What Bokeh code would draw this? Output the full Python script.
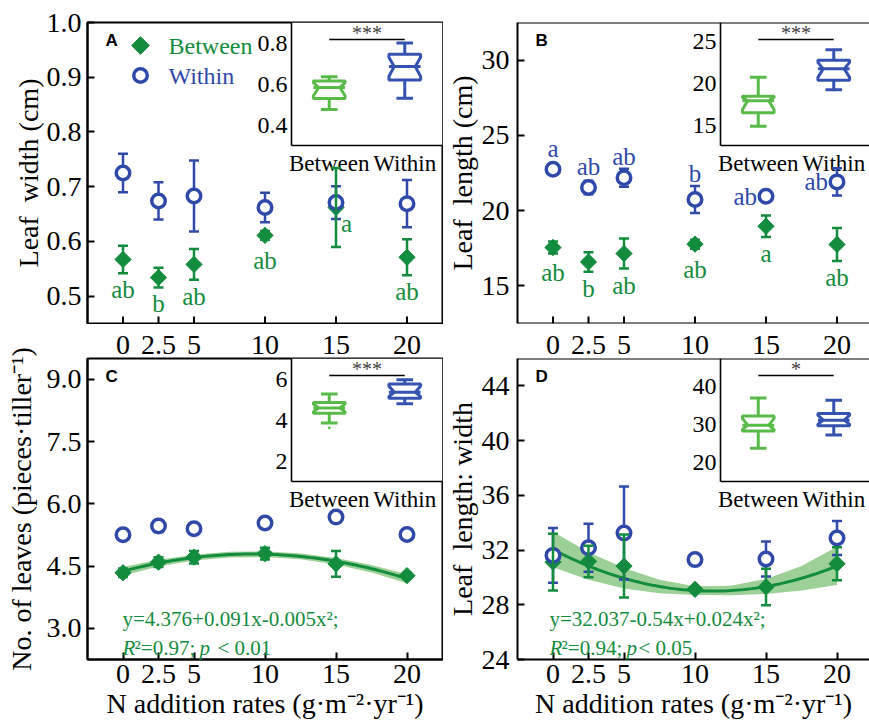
import numpy as np
from bokeh.plotting import figure
from bokeh.layouts import column, row
from bokeh.models import Range1d, FixedTicker, Label, Span, LinearAxis
from bokeh.core.properties import value
from bokeh.embed import file_html
from bokeh.resources import INLINE

# ------------------------------------------------------------------ data
n_rates = [0, 2.5, 5, 10, 15, 20]
n_rate_labels = ["0", "2.5", "5", "10", "15", "20"]
groups = ["Between", "Within"]

# A: leaf width (cm)
width_between = [0.567, 0.534, 0.558, 0.611, 0.662, 0.571]
width_between_se = [0.025, 0.018, 0.028, 0.008, 0.072, 0.033]
width_within = [0.725, 0.674, 0.683, 0.662, 0.671, 0.669]
width_within_se = [0.035, 0.034, 0.065, 0.027, 0.030, 0.043]
width_between_letters = ["ab", "b", "ab", "ab", "a", "ab"]
width_between_letter_pos = ["below", "below", "below", "below", "right", "below"]

# B: leaf length (cm)
length_between = [17.55, 16.59, 17.15, 17.77, 18.96, 17.75]
length_between_se = [0.40, 0.65, 1.00, 0.30, 0.72, 1.10]
length_within = [22.75, 21.54, 22.18, 20.74, 20.96, 21.91]
length_within_se = [0.15, 0.45, 0.60, 0.90, 0.10, 0.90]
length_between_letters = ["ab", "b", "ab", "ab", "a", "ab"]
length_between_letter_pos = ["below"] * 6
length_within_letters = ["a", "ab", "ab", "b", "ab", "ab"]
length_within_letter_pos = ["above", "above", "above", "above", "left", "left"]

# C: number of leaves
leaves_between = [4.34, 4.595, 4.715, 4.80, 4.555, 4.27]
leaves_between_se = [0.10, 0.12, 0.15, 0.14, 0.31, 0.07]
leaves_within = [5.256, 5.464, 5.40, 5.536, 5.68, 5.26]
leaves_within_se = [0.13, 0.14, 0.10, 0.10, 0.08, 0.12]
leaves_fit = [4.376, 0.091, -0.005]          # y = a + b x + c x^2
leaves_eq = ["y=4.376+0.091x-0.005x\u00b2;", "\u00b2=0.97; ", "< 0.01"]

# D: leaf length : width
ratio_between = [31.12, 31.17, 30.83, 29.13, 29.30, 31.00]
ratio_between_se = [2.08, 1.15, 2.30, 0.15, 1.34, 1.20]
ratio_within = [31.61, 32.17, 33.24, 31.30, 31.34, 32.88]
ratio_within_se = [2.00, 1.75, 3.40, 0.30, 1.28, 1.24]
ratio_fit = [32.037, -0.54, 0.024]
ratio_eq = ["y=32.037-0.54x+0.024x\u00b2;", "\u00b2=0.94; ", "< 0.05"]

# confidence band half-widths read at these rates
band_x = [0, 2.5, 5, 7.5, 10, 12.5, 15, 17.5, 20]
leaves_band_half = [0.10, 0.08, 0.07, 0.07, 0.07, 0.07, 0.08, 0.09, 0.11]
ratio_band_half = [1.30, 1.00, 0.75, 0.50, 0.32, 0.35, 0.55, 0.90, 1.40]

# insets: [lower whisker, Q1, median, Q3, upper whisker]
inset_width_between = [0.476, 0.529, 0.583, 0.615, 0.635]
inset_width_within = [0.53, 0.62, 0.685, 0.745, 0.80]
inset_length_between = [14.9, 16.5, 17.95, 18.5, 20.75]
inset_length_within = [19.25, 20.4, 21.76, 22.8, 24.03]
inset_leaves_between = [3.88, 4.36, 4.62, 4.88, 5.31]
inset_leaves_within = [4.82, 5.10, 5.39, 5.80, 6.00]
inset_leaves_outliers = [3.64]
inset_ratio_between = [23.73, 28.25, 29.8, 32.17, 36.95]
inset_ratio_within = [27.2, 29.64, 31.1, 32.87, 36.34]
significance = ["***", "***", "***", "*"]

# axis ticks
width_ticks = [0.5, 0.6, 0.7, 0.8, 0.9, 1.0]
width_tick_labels = ["0.5", "0.6", "0.7", "0.8", "0.9", "1.0"]
length_ticks = [15, 20, 25, 30]
length_tick_labels = ["15", "20", "25", "30"]
leaves_ticks = [3.0, 4.5, 6.0, 7.5, 9.0]
leaves_tick_labels = ["3.0", "4.5", "6.0", "7.5", "9.0"]
ratio_ticks = [24, 28, 32, 36, 40, 44]
ratio_tick_labels = ["24", "28", "32", "36", "40", "44"]
inset_width_ticks = [0.4, 0.6, 0.8]
inset_width_tick_labels = ["0.4", "0.6", "0.8"]
inset_length_ticks = [15, 20, 25]
inset_length_tick_labels = ["15", "20", "25"]
inset_leaves_ticks = [2, 4, 6]
inset_leaves_tick_labels = ["2", "4", "6"]
inset_ratio_ticks = [20, 30, 40]
inset_ratio_tick_labels = ["20", "30", "40"]

x_title = "N addition rates (g\u00b7m\u207b\u00b2\u00b7yr\u207b\u00b9)"

# ------------------------------------------------------------------ style
FONT = "Liberation Serif"
GREEN = "#138c3e"
BLUE = "#2f49a8"
IGREEN = "#58bb48"
IBLUE = "#3453b0"
BAND = "#4daa3f"
SP = "\u00a0 "

FH = 301          # frame height
FW_L, FW_R = 355, 352
MBL_L, MBL_R = 87, 74
XPPU = 14.2       # px per N unit
IH = 123          # inset height px
IL_L, IL_R = 204, 203
INSET_PPU = 75.5  # px per category
TICK_FS = "28px"
LAB_FS = "28px"


def style_axis(ax, ticks, labels, standoff):
    ax.ticker = FixedTicker(ticks=ticks)
    ax.major_label_overrides = dict(zip(ticks, labels))
    ax.major_tick_in = 7
    ax.major_tick_out = 0
    ax.minor_tick_line_color = None
    ax.major_tick_line_width = 2
    ax.major_tick_line_color = "black"
    ax.axis_line_width = 2
    ax.axis_line_color = "black"
    ax.major_label_text_font = FONT
    ax.major_label_text_font_size = TICK_FS
    ax.major_label_text_color = "black"
    ax.major_label_standoff = standoff
    ax.axis_label_text_font = FONT
    ax.axis_label_text_font_size = LAB_FS
    ax.axis_label_text_font_style = "normal"
    ax.axis_label_text_color = "black"


def errbars(p, x, m, se, color):
    lo = [a - b for a, b in zip(m, se)]
    hi = [a + b for a, b in zip(m, se)]
    p.segment(x0=x, y0=lo, x1=x, y1=hi, line_color=color, line_width=2.5)
    p.scatter(x=list(x) + list(x), y=lo + hi, marker="dash", size=10,
              line_color=color, line_width=2.5)


def letters(p, x, m, se, texts, pos, color, ppu):
    r = 9.0 / ppu
    specs = {
        "below": dict(text_align="center", text_baseline="top", y_offset=3),
        "above": dict(text_align="center", text_baseline="alphabetic", y_offset=-12),
        "right": dict(text_align="left", text_baseline="middle", x_offset=5, y_offset=16),
        "left": dict(text_align="right", text_baseline="middle", x_offset=-9),
    }
    for kind, kw in specs.items():
        idx = [i for i, k in enumerate(pos) if k == kind]
        if not idx:
            continue
        if kind == "below":
            ys = [min(m[i] - se[i], m[i] - r) for i in idx]
        elif kind == "above":
            ys = [max(m[i] + se[i], m[i] + r) for i in idx]
        else:
            ys = [m[i] for i in idx]
        p.text(x=[x[i] for i in idx], y=ys, text=[texts[i] for i in idx],
               text_font=value(FONT), text_font_size="25px", text_color=color, **kw)


def notched(c, stats, hw=0.21, d=0.07):
    lo, q1, med, q3, hi = stats
    nlo = med - 0.75 * (med - q1)
    nhi = med + 0.75 * (q3 - med)
    xs = [c - hw, c + hw, c + hw, c + hw - d, c + hw, c + hw, c - hw, c - hw, c - hw + d, c - hw]
    ys = [q1, q1, nlo, med, nhi, q3, q3, nhi, med, nlo]
    return xs, ys


def make_panel(cfg):
    left = cfg["left"]
    top = cfg["top"]
    FW = FW_L if left else FW_R
    IL = IL_L if left else IL_R
    x0 = -2.5
    x1 = x0 + FW / XPPU
    y0, y1 = cfg["yrange"]
    mbl = MBL_L if left else MBL_R
    mbr = 1 if left else 0
    mbt = 22 if top else 34
    mbb = 1 if top else 64
    p = figure(width=mbl + FW + mbr, height=mbt + FH + mbb,
               x_range=Range1d(x0, x1), y_range=Range1d(y0, y1),
               output_backend="svg", toolbar_location=None,
               min_border_left=mbl, min_border_right=mbr,
               min_border_top=mbt, min_border_bottom=mbb)
    p.xgrid.visible = False
    p.ygrid.visible = False
    p.background_fill_color = "white"
    p.border_fill_color = "white"
    if left:
        p.outline_line_color = "black"
        p.outline_line_width = 2
    else:
        p.outline_line_color = None
        p.add_layout(Span(location=y1, dimension="width", line_color="black", line_width=2))

    ppu = FH / (y1 - y0)

    style_axis(p.yaxis[0], cfg["yticks"], cfg["yticklabels"], 6 if left else 8)
    p.yaxis[0].axis_label = cfg["ylabel"]
    p.yaxis[0].axis_label_standoff = cfg["ylabstand"]
    if top:
        # inward tick marks only; their labels sit on the lower panels' top axis
        p.xaxis[0].visible = False
        if not left:
            p.add_layout(Span(location=y0, dimension="width", line_color="black",
                              line_width=2))
        p.segment(x0=n_rates, y0=[y0] * len(n_rates), x1=n_rates,
                  y1=[y0 + 7.0 / ppu] * len(n_rates), line_color="black", line_width=2)
    else:
        style_axis(p.xaxis[0], n_rates, n_rate_labels, 5)
        p.xaxis[0].axis_label = x_title
        p.xaxis[0].axis_label_standoff = 2
        up = LinearAxis()
        p.add_layout(up, "above")
        style_axis(up, n_rates, n_rate_labels, 5)
        up.major_tick_in = 0
        up.major_tick_line_color = None
        up.axis_line_color = None

    # ---------------- inset (drawn through its own extra ranges)
    ilo, ihi = cfg["irange"]
    ippu = IH / (ihi - ilo)
    ix0 = -0.5
    ix1 = -0.5 + (FW - IL) / INSET_PPU
    p.extra_x_ranges = {"ix": Range1d(-0.5 - IL / INSET_PPU, ix1),
                        "px": Range1d(0, FW)}
    p.extra_y_ranges = {"iy": Range1d(ihi - FH / ippu, ihi),
                        "px": Range1d(0, FH)}
    ik = dict(x_range_name="ix", y_range_name="iy")
    p.quad(left=[ix0], right=[ix1], bottom=[ilo], top=[ihi], fill_color="white",
           line_color=None, **ik)
    p.segment(x0=[ix0, ix0], y0=[ilo, ilo], x1=[ix0, ix1], y1=[ihi, ilo],
              line_color="black", line_width=1.6, **ik)
    boxes = [(0, cfg["ib"], IGREEN), (1, cfg["iw"], IBLUE)]
    for c, st, col in boxes:
        lo, q1, med, q3, hi = st
        bx, by = notched(c, st)
        p.patch(bx, by, fill_color="white", line_color=col, line_width=3, **ik)
        p.segment(x0=[c - 0.21], y0=[med], x1=[c + 0.21], y1=[med], line_color=col,
                  line_width=3, **ik)
        p.segment(x0=[c, c, c - 0.11, c - 0.11], y0=[q3, q1, hi, lo],
                  x1=[c, c, c + 0.11, c + 0.11], y1=[hi, lo, hi, lo],
                  line_color=col, line_width=3, **ik)
    if cfg.get("ioutliers"):
        p.scatter(x=[0] * len(cfg["ioutliers"]), y=cfg["ioutliers"], size=2,
                  color=IGREEN, **ik)
    p.text(x=[ix0] * len(cfg["iticks"]), y=cfg["iticks"], text=cfg["iticklabels"],
           x_offset=-4, text_align="right", text_baseline="middle",
           text_font=value(FONT), text_font_size="24px", text_color="black", **ik)
    p.text(x=[0, 1], y=[ilo, ilo], text=groups, y_offset=5, text_align="center",
           text_baseline="top", text_font=value(FONT), text_font_size="23px",
           text_color="black", **ik)
    sig_y = ihi - 17.0 / ippu
    p.segment(x0=[0], y0=[sig_y], x1=[1], y1=[sig_y], line_color="black",
              line_width=1.3, **ik)
    p.text(x=[0.5], y=[sig_y], text=[cfg["sig"]], y_offset=-7, text_align="center",
           text_baseline="alphabetic", text_font=value(FONT), text_font_size="20px",
           text_color="#444444", **ik)

    # ---------------- fit
    if cfg.get("fit"):
        coef = cfg["fit"]
        xx = np.linspace(0, 20, 81)
        yy = coef[0] + coef[1] * xx + coef[2] * xx ** 2
        bx = np.array(band_x, dtype=float)
        by = coef[0] + coef[1] * bx + coef[2] * bx ** 2
        half = np.array(cfg["band"])
        p.varea(x=bx, y1=by - half, y2=by + half, fill_color=BAND, fill_alpha=0.55)
        p.line(xx, yy, line_color=GREEN, line_width=3)

    # ---------------- data
    x = n_rates
    p.scatter(x, cfg["b"], marker="square", angle=np.pi / 4, size=11.5,
              fill_color=GREEN, line_color=GREEN, line_width=1)
    errbars(p, x, cfg["w"], cfg["wse"], BLUE)
    p.scatter(x, cfg["w"], marker="circle", size=13.5, fill_color="white",
              line_color=BLUE, line_width=3.5)
    errbars(p, x, cfg["b"], cfg["bse"], GREEN)

    if cfg.get("bl"):
        letters(p, x, cfg["b"], cfg["bse"], cfg["bl"], cfg["blp"], GREEN, ppu)
    if cfg.get("wl"):
        letters(p, x, cfg["w"], cfg["wse"], cfg["wl"], cfg["wlp"], BLUE, ppu)

    # ---------------- panel letter
    p.add_layout(Label(x=x0, y=y1, x_offset=18, y_offset=-8, text=cfg["letter"],
                       text_font="Liberation Sans", text_font_style="bold",
                       text_font_size="17px", text_baseline="top", text_color="black"))

    # ---------------- equation
    if cfg.get("eq"):
        eq = cfg["eq"]
        offs = cfg["eqoffs"]
        common = dict(x=x0, y=y0, text_font=FONT, text_font_size="21px",
                      text_color=GREEN, text_baseline="alphabetic")
        p.add_layout(Label(text=eq[0], x_offset=offs[0], y_offset=41, **common))
        p.add_layout(Label(text="R", x_offset=offs[0], y_offset=12,
                           text_font_style="italic", **common))
        p.add_layout(Label(text=eq[1], x_offset=offs[0] + 12, y_offset=12, **common))
        p.add_layout(Label(text="p", x_offset=offs[1], y_offset=12,
                           text_font_style="italic", **common))
        p.add_layout(Label(text=eq[2], x_offset=offs[2], y_offset=12, **common))

    # ---------------- legend (panel A)
    if cfg.get("legend"):
        pk = dict(x_range_name="px", y_range_name="px")
        lx, ly1, ly2, tx = 53, FH - 23, FH - 53, 81
        p.scatter(x=[lx], y=[ly1], marker="square", angle=np.pi / 4, size=12.5,
                  fill_color=GREEN, line_color=GREEN, **pk)
        p.scatter(x=[lx], y=[ly2], marker="circle", size=13.5, fill_color="white",
                  line_color=BLUE, line_width=3.5, **pk)
        p.text(x=[tx], y=[ly1], text=[groups[0]], text_baseline="middle",
               text_font=value(FONT), text_font_size="24px", text_color=GREEN, **pk)
        p.text(x=[tx], y=[ly2], text=[groups[1]], text_baseline="middle",
               text_font=value(FONT), text_font_size="24px", text_color=BLUE, **pk)
    return p


pA = make_panel(dict(left=True, top=True, letter="A", ylabel="Leaf" + SP + "width (cm)",
                     ylabstand=0,
                     yrange=(0.45, 1.0), yticks=width_ticks, yticklabels=width_tick_labels,
                     b=width_between, bse=width_between_se, w=width_within, wse=width_within_se,
                     bl=width_between_letters, blp=width_between_letter_pos,
                     irange=(0.3, 0.9), iticks=inset_width_ticks,
                     iticklabels=inset_width_tick_labels,
                     ib=inset_width_between, iw=inset_width_within, sig=significance[0],
                     legend=True))
pB = make_panel(dict(left=False, top=True, letter="B", ylabel="Leaf" + SP + "length (cm)",
                     ylabstand=1,
                     yrange=(12.5, 32.5), yticks=length_ticks, yticklabels=length_tick_labels,
                     b=length_between, bse=length_between_se, w=length_within,
                     wse=length_within_se,
                     bl=length_between_letters, blp=length_between_letter_pos,
                     wl=length_within_letters, wlp=length_within_letter_pos,
                     irange=(12.6, 27.3), iticks=inset_length_ticks,
                     iticklabels=inset_length_tick_labels,
                     ib=inset_length_between, iw=inset_length_within, sig=significance[1]))
pC = make_panel(dict(left=True, top=False, letter="C",
                     ylabel="No. of leaves (pieces\u00b7tiller\u207b\u00b9)", ylabstand=7,
                     yrange=(2.25, 9.5), yticks=leaves_ticks, yticklabels=leaves_tick_labels,
                     b=leaves_between, bse=leaves_between_se, w=leaves_within,
                     wse=leaves_within_se,
                     irange=(1.0, 7.05), iticks=inset_leaves_ticks,
                     iticklabels=inset_leaves_tick_labels,
                     ib=inset_leaves_between, iw=inset_leaves_within,
                     ioutliers=inset_leaves_outliers, sig=significance[2],
                     fit=leaves_fit, band=leaves_band_half, eq=leaves_eq,
                     eqoffs=[35, 112, 130]))
pD = make_panel(dict(left=False, top=False, letter="D", ylabel="Leaf" + SP + "length: width",
                     ylabstand=1,
                     yrange=(24, 46), yticks=ratio_ticks, yticklabels=ratio_tick_labels,
                     b=ratio_between, bse=ratio_between_se, w=ratio_within, wse=ratio_within_se,
                     irange=(15, 47.3), iticks=inset_ratio_ticks,
                     iticklabels=inset_ratio_tick_labels,
                     ib=inset_ratio_between, iw=inset_ratio_within, sig=significance[3],
                     fit=ratio_fit, band=ratio_band_half, eq=ratio_eq,
                     eqoffs=[32, 109, 121]))

layout = column(row(pA, pB), row(pC, pD))
open("out.html", "w").write(file_html(layout, INLINE))
